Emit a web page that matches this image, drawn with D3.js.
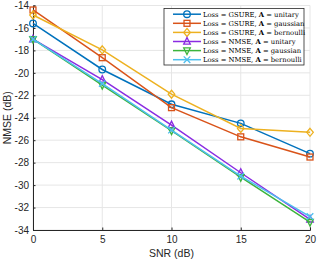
<!DOCTYPE html>
<html>
<head>
<meta charset="utf-8">
<script src="https://cdn.jsdelivr.net/npm/d3@7"></script>
<style>
  body { margin: 0; background: #fff; }
  svg text { font-family: "Liberation Sans", Arial, sans-serif; }
</style>
</head>
<body>
<div id="chart"></div>
<script>
// SNR values on the x axis
const snr = [0, 5, 10, 15, 20];

// NMSE (dB)
const gsureUnitary   = [-15.6, -19.7, -22.8, -24.5, -27.2];
const gsureGaussian  = [-14.4, -18.65, -23.1, -25.7, -27.5];
const gsureBernoulli = [-14.85, -17.95, -21.9, -24.95, -25.3];
const nmseUnitary    = [-17.0, -20.6, -24.65, -28.9, -33.05];
const nmseGaussian   = [-17.0, -21.1, -25.15, -29.3, -33.3];
const nmseBernoulli  = [-17.0, -20.95, -25.1, -29.2, -32.8];

const lossNames = ["GSURE", "GSURE", "GSURE", "NMSE", "NMSE", "NMSE"];
const matrixNames = ["unitary", "gaussian", "bernoulli", "unitary", "gaussian", "bernoulli"];
const xTicks = [0, 5, 10, 15, 20];
const yTicks = [-34, -32, -30, -28, -26, -24, -22, -20, -18, -16, -14];

const series = [gsureUnitary, gsureGaussian, gsureBernoulli, nmseUnitary, nmseGaussian, nmseBernoulli];
const colors = ["#0072BD", "#D95319", "#EDB120", "#8A2BE2", "#3CB43C", "#4DBEEE"];
const markers = ["circle", "square", "diamond", "triUp", "triDown", "cross"];

const width = 317, height = 261;
const margin = {top: 5.5, right: 7, bottom: 31, left: 33};

let svg = d3.select("#chart").append("svg")
    .attr("width", width)
    .attr("height", height);

let x = d3.scaleLinear().domain([0, 20]).range([margin.left, width - margin.right]);
let y = d3.scaleLinear().domain([-34, -14]).range([height - margin.bottom, margin.top]);

// Grid lines
let grid = svg.append("g").attr("stroke", "#e6e6e6").attr("stroke-width", 1);
xTicks.forEach(function(t) {
    grid.append("line")
        .attr("x1", x(t)).attr("x2", x(t))
        .attr("y1", y(-34)).attr("y2", y(-14));
});
yTicks.forEach(function(t) {
    grid.append("line")
        .attr("x1", x(0)).attr("x2", x(20))
        .attr("y1", y(t)).attr("y2", y(t));
});

// Axes
let xAxis = svg.append("g")
    .attr("transform", "translate(0," + y(-34) + ")")
    .call(d3.axisBottom(x).tickValues(xTicks).tickSize(-2.5).tickPadding(6));
let yAxis = svg.append("g")
    .attr("transform", "translate(" + x(0) + ",0)")
    .call(d3.axisLeft(y).tickValues(yTicks).tickSize(-2.5).tickPadding(4)
        .tickFormat(function(d) { return d; }));

[xAxis, yAxis].forEach(function(a) {
    a.select(".domain").attr("stroke", "#262626").attr("stroke-width", 1);
    a.selectAll(".tick line").attr("stroke", "#262626");
    a.selectAll(".tick text").attr("fill", "#262626").style("font-size", "10px");
});

svg.append("text")
    .attr("x", (x(0) + x(20)) / 2)
    .attr("y", 257)
    .attr("text-anchor", "middle")
    .attr("fill", "#262626")
    .style("font-size", "10.5px")
    .text("SNR (dB)");

svg.append("text")
    .attr("transform", "translate(11," + ((y(-14) + y(-34)) / 2) + ") rotate(-90)")
    .attr("text-anchor", "middle")
    .attr("fill", "#262626")
    .style("font-size", "10.5px")
    .text("NMSE (dB)");

// Draws one marker at (cx, cy)
function drawMarker(g, kind, cx, cy, color) {
    let r = 3.3;
    let m;
    if (kind === "circle") {
        m = g.append("circle").attr("cx", cx).attr("cy", cy).attr("r", r);
    } else if (kind === "square") {
        m = g.append("rect").attr("x", cx - r * 0.9).attr("y", cy - r * 0.9)
            .attr("width", r * 1.8).attr("height", r * 1.8);
    } else if (kind === "diamond") {
        m = g.append("path").attr("d", "M" + cx + "," + (cy - r * 1.2) + " L" + (cx + r) + "," + cy +
            " L" + cx + "," + (cy + r * 1.2) + " L" + (cx - r) + "," + cy + " Z");
    } else if (kind === "triUp") {
        m = g.append("path").attr("d", "M" + cx + "," + (cy - r * 1.2) + " L" + (cx + r) + "," + (cy + r * 0.8) +
            " L" + (cx - r) + "," + (cy + r * 0.8) + " Z");
    } else if (kind === "triDown") {
        m = g.append("path").attr("d", "M" + cx + "," + (cy + r * 1.2) + " L" + (cx + r) + "," + (cy - r * 0.8) +
            " L" + (cx - r) + "," + (cy - r * 0.8) + " Z");
    } else {
        m = g.append("path").attr("d", "M" + (cx - r) + "," + (cy - r) + " L" + (cx + r) + "," + (cy + r) +
            " M" + (cx + r) + "," + (cy - r) + " L" + (cx - r) + "," + (cy + r));
    }
    m.attr("fill", "none").attr("stroke", color).attr("stroke-width", 1.3);
}

let line = d3.line()
    .x(function(d, i) { return x(snr[i]); })
    .y(function(d) { return y(d); });

series.forEach(function(s, k) {
    let g = svg.append("g");
    g.append("path")
        .attr("d", line(s))
        .attr("fill", "none")
        .attr("stroke", colors[k])
        .attr("stroke-width", 1.5);
    s.forEach(function(v, i) {
        drawMarker(g, markers[k], x(snr[i]), y(v), colors[k]);
    });
});

// Legend
let legend = svg.append("g");
legend.append("rect")
    .attr("x", 164).attr("y", 8.5)
    .attr("width", 140).attr("height", 56.5)
    .attr("fill", "#fff")
    .attr("stroke", "#262626")
    .attr("stroke-width", 0.8);

series.forEach(function(s, k) {
    let ly = 14.2 + k * 9.1;
    legend.append("line")
        .attr("x1", 173).attr("x2", 201)
        .attr("y1", ly).attr("y2", ly)
        .attr("stroke", colors[k])
        .attr("stroke-width", 1.5);
    drawMarker(legend, markers[k], 187, ly, colors[k]);
    let t = legend.append("text")
        .attr("x", 203)
        .attr("y", ly + 2.5)
        .attr("fill", "#000")
        .style("font-family", "'DejaVu Serif', 'Liberation Serif', serif")
        .style("font-size", "6.8px");
    t.append("tspan").text("Loss = " + lossNames[k] + ", ");
    t.append("tspan").style("font-weight", "bold").text("A");
    t.append("tspan").text(" = " + matrixNames[k]);
});
</script>
</body>
</html>
